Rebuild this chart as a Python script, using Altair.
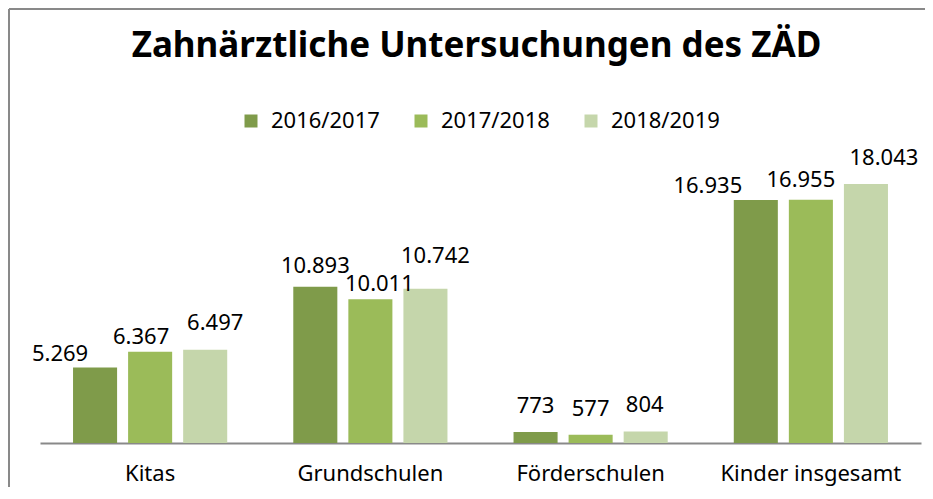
import altair as alt
import pandas as pd

categories = ["Kitas", "Grundschulen", "Förderschulen", "Kinder insgesamt"]
years = ["2016/2017", "2017/2018", "2018/2019"]
values_2016 = [5269, 10893, 773, 16935]
values_2017 = [6367, 10011, 577, 16955]
values_2018 = [6497, 10742, 804, 18043]
colors = ["#7F9B4A", "#9BBB59", "#C5D6AB"]
title_text = "Zahnärztliche Untersuchungen des ZÄD"

rows = []
for yr, vals in zip(years, [values_2016, values_2017, values_2018]):
    for c, v in zip(categories, vals):
        rows.append({"cat": c, "year": yr, "value": v,
                     "label": f"{v:,}".replace(",", ".")})
df = pd.DataFrame(rows)

FONT = "Noto Sans"
W, H = 881, 287

x_enc = alt.X("cat:N", sort=categories,
              scale=alt.Scale(paddingInner=0.3, paddingOuter=0.15),
              axis=alt.Axis(title=None, orient="bottom", ticks=False,
                            domainColor="#898989", domainWidth=2,
                            labelFontSize=22, labelFont=FONT, labelColor="#000000",
                            labelPadding=20, labelAngle=0, labelLimit=400))
xo_enc = alt.XOffset("year:N", sort=years, scale=alt.Scale(paddingInner=0.2))
y_enc = alt.Y("value:Q", scale=alt.Scale(domain=[0, 20000]), axis=None)

bars = alt.Chart(df).mark_bar().encode(
    x=x_enc, xOffset=xo_enc, y=y_enc,
    color=alt.Color("year:N", sort=years,
                    scale=alt.Scale(domain=years, range=colors),
                    legend=alt.Legend(title=None, orient="none", direction="horizontal",
                                      legendX=200, legendY=-46,
                                      symbolType="square", symbolSize=169,
                                      symbolStrokeWidth=0, symbolOffset=0,
                                      labelFontSize=22, labelFont=FONT,
                                      labelColor="#000000", labelOffset=9,
                                      columnPadding=30)),
)

# label placement nudges in pixels (dx, gap above bar), styling only:
# the reference's data labels were moved by hand in the spreadsheet
label_nudges = {
    ("Kitas", "2016/2017"): (-35, 6), ("Kitas", "2017/2018"): (-9, 8),
    ("Kitas", "2018/2019"): (10, 20),
    ("Grundschulen", "2016/2017"): (0, 14), ("Grundschulen", "2017/2018"): (9, 8),
    ("Grundschulen", "2018/2019"): (10, 26),
    ("Förderschulen", "2016/2017"): (0, 19), ("Förderschulen", "2017/2018"): (0, 19),
    ("Förderschulen", "2018/2019"): (-1, 19),
    ("Kinder insgesamt", "2016/2017"): (-48, 7), ("Kinder insgesamt", "2017/2018"): (-10, 13),
    ("Kinder insgesamt", "2018/2019"): (18, 19),
}

label_layers = []
for (c, y), (dx, gap) in label_nudges.items():
    label_layers.append(
        alt.Chart(df).transform_filter((alt.datum.cat == c) & (alt.datum.year == y))
        .mark_text(baseline="alphabetic", dx=dx, dy=-gap, fontSize=22, font=FONT,
                   color="#000000")
        .encode(x=x_enc, xOffset=xo_enc, y=y_enc, text="label:N")
    )

frame_df = pd.DataFrame({"a": [0]})
left_line = alt.Chart(frame_df).mark_rule(color="#898989", strokeWidth=2).encode(
    x=alt.value(-31), y=alt.value(-147), y2=alt.value(340))
top_line = alt.Chart(frame_df).mark_rule(color="#898989", strokeWidth=2).encode(
    x=alt.value(-31), x2=alt.value(W + 10), y=alt.value(-147))
title = alt.Chart(frame_df).mark_text(
    fontSize=35, font=FONT, fontWeight="bold", color="#000000",
    align="center", baseline="alphabetic"
).encode(x=alt.value(W / 2 - 4), y=alt.value(-99), text=alt.value(title_text))

chart = alt.layer(bars, *label_layers, left_line, top_line, title).properties(
    width=W, height=H,
    autosize=alt.AutoSizeParams(type="none"),
    padding={"left": 32, "top": 148, "right": 4, "bottom": 44},
).configure_view(stroke=None)

chart.save("out.html", embed_options={"renderer": "svg", "actions": False})
